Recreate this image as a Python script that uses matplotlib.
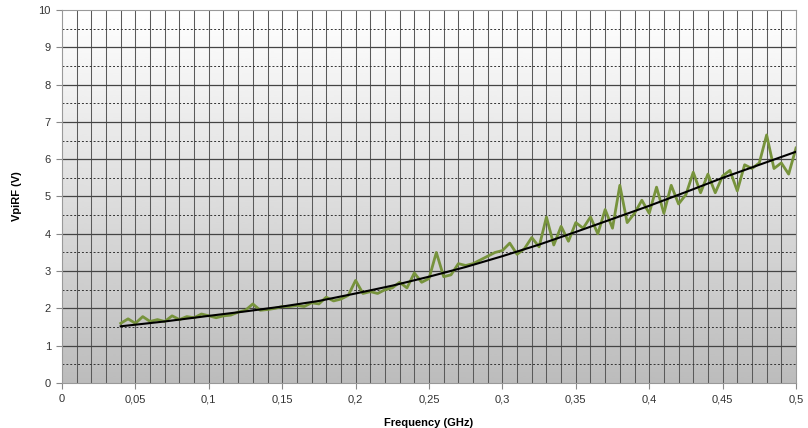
import matplotlib.pyplot as plt
import numpy as np

# Data
freq = [0.040, 0.045, 0.050, 0.055, 0.060, 0.065, 0.070, 0.075, 0.080, 0.085,
        0.090, 0.095, 0.100, 0.105, 0.110, 0.115, 0.120, 0.125, 0.130, 0.135,
        0.140, 0.145, 0.150, 0.155, 0.160, 0.165, 0.170, 0.175, 0.180, 0.185,
        0.190, 0.195, 0.200, 0.205, 0.210, 0.215, 0.220, 0.225, 0.230, 0.235,
        0.240, 0.245, 0.250, 0.255, 0.260, 0.265, 0.270, 0.275, 0.280, 0.285,
        0.290, 0.295, 0.300, 0.305, 0.310, 0.315, 0.320, 0.325, 0.330, 0.335,
        0.340, 0.345, 0.350, 0.355, 0.360, 0.365, 0.370, 0.375, 0.380, 0.385,
        0.390, 0.395, 0.400, 0.405, 0.410, 0.415, 0.420, 0.425, 0.430, 0.435,
        0.440, 0.445, 0.450, 0.455, 0.460, 0.465, 0.470, 0.475, 0.480, 0.485,
        0.490, 0.495, 0.500]
vpirf = [1.60, 1.72, 1.60, 1.78, 1.65, 1.70, 1.65, 1.80, 1.70, 1.78,
         1.75, 1.85, 1.80, 1.75, 1.80, 1.82, 1.90, 1.95, 2.12, 1.95,
         1.97, 2.00, 2.05, 2.05, 2.08, 2.05, 2.15, 2.12, 2.30, 2.20,
         2.25, 2.35, 2.75, 2.40, 2.45, 2.40, 2.50, 2.55, 2.70, 2.55,
         2.95, 2.70, 2.80, 3.50, 2.85, 2.90, 3.20, 3.15, 3.20, 3.30,
         3.40, 3.50, 3.55, 3.75, 3.45, 3.60, 3.90, 3.65, 4.45, 3.70,
         4.20, 3.80, 4.30, 4.15, 4.45, 4.00, 4.65, 4.15, 5.30, 4.30,
         4.55, 4.90, 4.55, 5.25, 4.55, 5.30, 4.80, 5.05, 5.65, 5.10,
         5.60, 5.10, 5.55, 5.70, 5.15, 5.85, 5.75, 5.90, 6.65, 5.75,
         5.90, 5.60, 6.30]

# trend line
trend_freq = [0.04, 0.07, 0.10, 0.125, 0.15, 0.175, 0.20, 0.225, 0.25, 0.275,
              0.30, 0.325, 0.35, 0.375, 0.40, 0.425, 0.45, 0.475, 0.50]
trend_v = [1.52, 1.65, 1.80, 1.92, 2.05, 2.20, 2.40, 2.61, 2.85, 3.11,
           3.40, 3.71, 4.05, 4.40, 4.75, 5.12, 5.50, 5.85, 6.20]

plt.rcParams['font.family'] = ['Liberation Sans', 'DejaVu Sans']

fig = plt.figure(figsize=(8.08, 4.28), dpi=100)
ax = fig.add_axes([62 / 808, 45 / 428, 734 / 808, 373 / 428])

# gradient background, white at top to grey at bottom
grad = np.linspace(1.0, 0.0, 256).reshape(-1, 1)
ax.imshow(grad, extent=[0, 0.5, 0, 10], aspect='auto', cmap='gray',
          vmin=-2.8, vmax=1.0, zorder=0, interpolation='bicubic')

# grid
for gx in np.arange(0.01, 0.5, 0.01):
    ax.axvline(gx, color='#5a5a5a', lw=0.75, zorder=1)
for gy in range(1, 10):
    ax.axhline(gy, color='#444444', lw=0.9, zorder=1)
for gy in np.arange(0.5, 10, 1.0):
    ax.axhline(gy, color='#333333', lw=0.7, ls=(0, (2, 2)), zorder=1)

ax.plot(freq, vpirf, color='#77933c', lw=2.0, zorder=3)
ax.plot(trend_freq, trend_v, color='black', lw=1.5, zorder=4)

ax.set_xlim(0, 0.5)
ax.set_ylim(0, 10)
ax.set_xticks(np.arange(0, 0.51, 0.05))
ax.set_xticklabels(['0', '0,05', '0,1', '0,15', '0,2', '0,25', '0,3',
                    '0,35', '0,4', '0,45', '0,5'])
ax.set_yticks(range(0, 11))
ax.tick_params(labelsize=8, colors='#333333', length=4, width=0.8,
               color='#888888', pad=4)

for s in ax.spines.values():
    s.set_color('#999999')
    s.set_linewidth(0.8)

ax.set_xlabel('Frequency (GHz)', fontweight='bold', fontsize=8, labelpad=10)
ax.set_ylabel('VpiRF (V)', fontweight='bold', fontsize=8, labelpad=12)

plt.savefig('out.png', dpi=100)
